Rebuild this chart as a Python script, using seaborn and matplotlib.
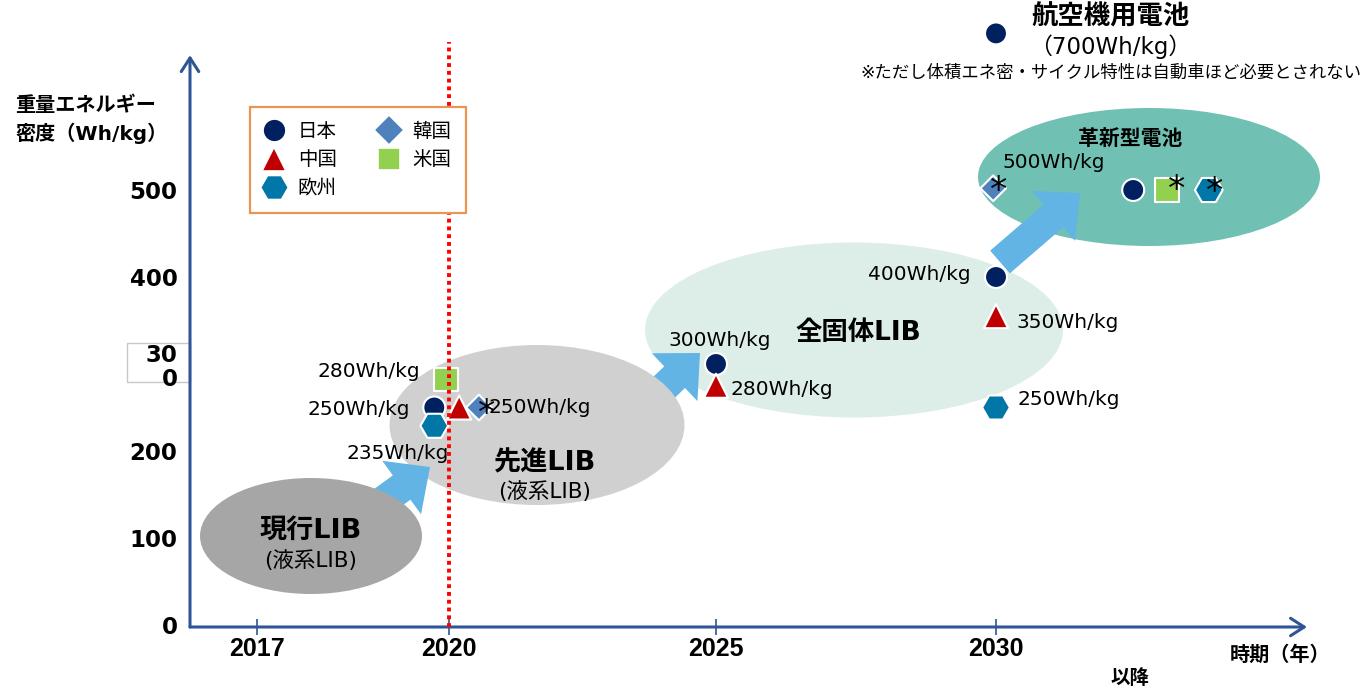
import numpy as np
import pandas as pd
import matplotlib
matplotlib.use("Agg")
import matplotlib.pyplot as plt
import matplotlib.transforms as mtransforms
from matplotlib.patches import Ellipse, FancyArrow, Rectangle
from matplotlib.lines import Line2D
import seaborn as sns

sns.set_style("white")
plt.rcParams['font.family'] = ['DejaVu Sans', 'Noto Sans CJK JP']
plt.rcParams['text.color'] = 'black'
plt.rcParams['xtick.labelcolor'] = 'black'
plt.rcParams['ytick.labelcolor'] = 'black'

# -----------------------------
# data (year, Wh/kg) per country
# -----------------------------
countries = ['日本', '中国', '欧州', '韓国', '米国']
jp_year = [2019.77, 2025, 2030, 2032.45, 2030]
jp_val = [250, 300, 400, 500, 680]
cn_year = [2020.19, 2025, 2030]
cn_val = [250, 275, 355]
eu_year = [2019.77, 2030, 2033.8]
eu_val = [229, 250, 500]
kr_year = [2020.56, 2029.95]
kr_val = [250, 502]
us_year = [2019.95, 2033.05]
us_val = [282, 500]

year_ticks = [2017, 2020, 2025, 2030]
value_ticks = [0, 100, 200, 300, 400, 500]
value_tick_labels = ['0', '100', '200', '30\n0', '400', '500']

colors = {'日本': '#002060', '中国': '#C00000', '欧州': '#0077A6',
          '韓国': '#4F81BD', '米国': '#92D050'}
markers = {'日本': 'o', '中国': '^', '欧州': 'H', '韓国': 'D', '米国': 's'}
sizes = {'日本': 250, '中国': 300, '欧州': 400, '韓国': 170, '米国': 290}

df = pd.concat([
    pd.DataFrame({'country': '日本', 'year': jp_year, 'value': jp_val}),
    pd.DataFrame({'country': '中国', 'year': cn_year, 'value': cn_val}),
    pd.DataFrame({'country': '欧州', 'year': eu_year, 'value': eu_val}),
    pd.DataFrame({'country': '韓国', 'year': kr_year, 'value': kr_val}),
    pd.DataFrame({'country': '米国', 'year': us_year, 'value': us_val}),
], ignore_index=True)

# -----------------------------
# figure / axes
# -----------------------------
W, H = 1361, 689
fig = plt.figure(figsize=(W / 100, H / 100), dpi=100)
ax = fig.add_axes([190 / W, 1 - 627 / H, (1307 - 190) / W, (627 - 10) / H])
ax.set_axisbelow(False)
# pixel (top-left origin) transform for decorations
px = mtransforms.Affine2D().scale(0.01, -0.01).translate(0, H / 100) + fig.dpi_scale_trans

# uneven year spacing on the time axis
scale_years = [2000, 2017, 2020, 2025, 2030, 2050]
scale_pos = [257 - 17 * 64, 257, 449, 716, 996, 996 + 20 * 56]


def fwd(x):
    return np.interp(x, scale_years, scale_pos)


def inv(x):
    return np.interp(x, scale_pos, scale_years)


ax.set_xscale('function', functions=(fwd, inv))
ax.set_xlim(inv(190), inv(1307))
ax.set_ylim((625 - 627) / 0.87, (625 - 10) / 0.87)

axis_col = '#2F5597'
for s in ax.spines.values():
    s.set_visible(False)
ax.annotate('', xy=(1, 0), xytext=(0, 0), xycoords='axes fraction',
            arrowprops=dict(arrowstyle='->,head_length=0.7,head_width=0.45', lw=2.2,
                            color=axis_col, shrinkA=0, shrinkB=0, mutation_scale=14))
ax.annotate('', xy=(0, 655), xytext=(0, ax.get_ylim()[0]), xycoords=('axes fraction', 'data'),
            arrowprops=dict(arrowstyle='->,head_length=0.7,head_width=0.45', lw=2.2,
                            color=axis_col, shrinkA=0, shrinkB=0, mutation_scale=14))

ax.set_xticks(year_ticks)
ax.set_xticklabels([str(y) for y in year_ticks], fontsize=18, fontweight='bold',
                   family='Liberation Sans')
ax.tick_params(axis='x', direction='inout', length=11, width=1.2, color=axis_col, pad=2,
               bottom=True)
ax.set_yticks(value_ticks)
ax.set_yticklabels(value_tick_labels, fontsize=16.5, fontweight='bold', linespacing=1.1)
ax.tick_params(axis='y', length=0, pad=9)
ax.minorticks_off()
ax.grid(False)

# box round the odd 300 label
ax.add_patch(Rectangle((127, 343), 63, 39, transform=px, facecolor='white',
                       edgecolor='#C8C8C8', lw=1, clip_on=False, zorder=0.2))

# -----------------------------
# ellipses and arrows
# -----------------------------
ell = [
    ((1149, 177), 342, 138, '#70C1B3', 1.0),
    ((854, 330), 418, 175, '#DDEEE9', 1.1),
    ((537, 425), 295, 160, '#D0D0D0', 1.4),
    ((311, 536), 222, 116, '#A6A6A6', 1.6),
]
for (c, w, h, col, z) in ell:
    ax.add_patch(Ellipse(c, w, h, transform=px, facecolor=col, edgecolor='none',
                         clip_on=False, zorder=z))

arrow_col = '#62B4E4'
arrows = [((1000, 262), (1080, 193), 1.2),
          ((635, 415), (700, 353), 1.3),
          ((350, 525), (430, 467), 1.5)]
for (t, tip, z) in arrows:
    ax.add_patch(FancyArrow(t[0], t[1], tip[0] - t[0], tip[1] - t[1], width=30,
                            head_width=66, head_length=35, length_includes_head=True,
                            transform=px, facecolor=arrow_col, edgecolor='none',
                            clip_on=False, zorder=z))

# ellipse titles
ax.text(311, 531, '現行LIB', transform=px, ha='center', va='center', fontsize=19.5,
        fontweight='bold', zorder=3)
ax.text(311, 561, '(液系LIB)', transform=px, ha='center', va='center', fontsize=15.5, zorder=3)
ax.text(545, 463, '先進LIB', transform=px, ha='center', va='center', fontsize=19.5,
        fontweight='bold', zorder=3)
ax.text(545, 492, '(液系LIB)', transform=px, ha='center', va='center', fontsize=15.5, zorder=3)
ax.text(858, 333, '全固体LIB', transform=px, ha='center', va='center', fontsize=19,
        fontweight='bold', zorder=3)
ax.text(1130, 140, '革新型電池', transform=px, ha='center', va='center', fontsize=15,
        fontweight='bold', zorder=3)

# -----------------------------
# points
# -----------------------------
sns.scatterplot(data=df, x='year', y='value', hue='country', style='country', size='country',
                palette=colors, markers=markers, sizes=sizes, edgecolor='white',
                linewidth=1.5, legend=False, zorder=6, clip_on=False, ax=ax)
ax.set_xlabel('')
ax.set_ylabel('')

ax.vlines(2020, ax.get_ylim()[0], 670, colors='#FF0000', linestyles=(0, (1, 1)), lw=2.8,
          zorder=7, clip_on=False)

lab = dict(textcoords='offset pixels', fontsize=14.5, va='center', zorder=8)
ax.annotate('280Wh/kg', (us_year[0], us_val[0]), xytext=(-26, 8), ha='right', **lab)
ax.annotate('250Wh/kg', (jp_year[0], jp_val[0]), xytext=(-24, -2), ha='right', **lab)
ax.annotate('250Wh/kg', (kr_year[0], kr_val[0]), xytext=(10, 0), ha='left', **lab)
ax.annotate('235Wh/kg', (eu_year[0], eu_val[0]), xytext=(-37, -28), ha='center', **lab)
ax.annotate('300Wh/kg', (jp_year[1], jp_val[1]), xytext=(4, 24), ha='center', **lab)
ax.annotate('280Wh/kg', (cn_year[1], cn_val[1]), xytext=(14, -4), ha='left', **lab)
ax.annotate('400Wh/kg', (jp_year[2], jp_val[2]), xytext=(-25, 2), ha='right', **lab)
ax.annotate('350Wh/kg', (cn_year[2], cn_val[2]), xytext=(20, -6), ha='left', **lab)
ax.annotate('250Wh/kg', (eu_year[1], eu_val[1]), xytext=(21, 8), ha='left', **lab)
ax.annotate('500Wh/kg', (kr_year[1], kr_val[1]), xytext=(9, 26), ha='left', **lab)

star = dict(textcoords='offset pixels', fontsize=25, ha='center', va='center', zorder=9)
ax.annotate('*', (kr_year[0], kr_val[0]), xytext=(8, -6), **star)
ax.annotate('*', (kr_year[1], kr_val[1]), xytext=(5, -3), **star)
ax.annotate('*', (us_year[1], us_val[1]), xytext=(10, 0), **star)
ax.annotate('*', (eu_year[2], eu_val[2]), xytext=(6, -2), **star)

# aviation battery note
ax.text(1110, 18, '航空機用電池', transform=px, ha='center', va='center', fontsize=19,
        fontweight='bold')
ax.text(1110, 47, '（700Wh/kg）', transform=px, ha='center', va='center', fontsize=16.5)
ax.text(1111, 73, '※ただし体積エネ密・サイクル特性は自動車ほど必要とされない', transform=px,
        ha='center', va='center', fontsize=12.5)

# axis titles
ax.text(15, 120, '重量エネルギー\n密度（Wh/kg）', transform=px, ha='left', va='center',
        fontsize=14.5, fontweight='bold', linespacing=1.45)
ax.text(1280, 655, '時期（年）', transform=px, ha='center', va='center', fontsize=14.5,
        fontweight='bold')
ax.text(1130, 678, '以降', transform=px, ha='center', va='center', fontsize=14,
        fontweight='bold')

# -----------------------------
# legend
# -----------------------------
leg_ms = {'日本': 16.5, '中国': 17, '欧州': 20, '韓国': 15, '米国': 15.5}
handles = [Line2D([], [], ls='none', marker=markers[c], markerfacecolor=colors[c],
                  markeredgecolor='white', markeredgewidth=1.2, markersize=leg_ms[c], label=c)
           for c in countries]
leg = ax.legend(handles=handles, ncol=2, loc='upper left', bbox_to_anchor=(250, 107),
                bbox_transform=px, borderaxespad=0, prop={'size': 14}, frameon=True,
                fancybox=False, edgecolor='#EB9550', framealpha=1, borderpad=0.75,
                labelspacing=0.5, handlelength=1.0, handletextpad=0.7, columnspacing=2.2)
leg.get_frame().set_linewidth(1.6)
leg.set_zorder(10)

fig.savefig('out.png', dpi=100, facecolor='white')
